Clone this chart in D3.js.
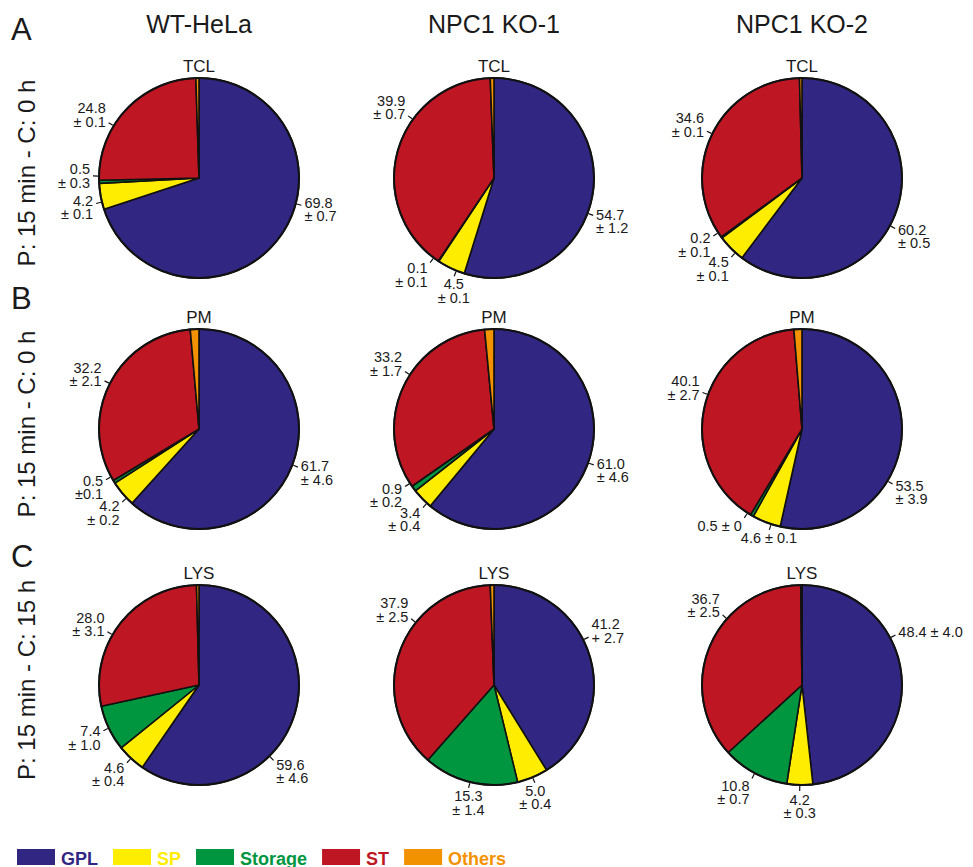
<!DOCTYPE html>
<html lang="en">
<head>
  <meta charset="utf-8">
  <title>Lipid class distribution</title>
  <script src="https://cdnjs.cloudflare.com/ajax/libs/d3/7.8.5/d3.min.js"></script>
  <style>
    body { margin: 0; background: #fff; }
    text { font-family: "Liberation Sans", Arial, sans-serif; fill: #1a1a1a; }
  </style>
</head>
<body>
<svg id="chart" width="973" height="867"></svg>
<script>
  // ---- data ----
  var columns = ["WT-HeLa", "NPC1 KO-1", "NPC1 KO-2"];
  var fractions = ["TCL", "PM", "LYS"];
  var panels = ["A", "B", "C"];
  var rowTitles = ["P: 15 min - C: 0 h", "P: 15 min - C: 0 h", "P: 15 min - C: 15 h"];
  var groups = ["GPL", "SP", "Storage", "ST", "Others"];
  var groupColors = ["#312783", "#ffed00", "#009640", "#be1622", "#f39200"];

  // values per column, in group order
  var tclValues = [[69.8, 4.2, 0.5, 24.8, 0.5], [54.7, 4.5, 0.1, 39.9, 0.6], [60.2, 4.5, 0.2, 34.6, 0.4]];
  var pmValues  = [[61.7, 4.2, 0.5, 32.2, 1.4], [61.0, 3.4, 0.9, 33.2, 1.5], [53.5, 4.6, 0.5, 40.1, 1.3]];
  var lysValues = [[59.6, 4.6, 7.4, 28.0, 0.4], [41.2, 5.0, 15.3, 37.9, 0.6], [48.4, 4.2, 10.8, 36.7, 0.2]];

  var tclLabels = [["69.8\n± 0.7", "4.2\n± 0.1", "0.5\n± 0.3", "24.8\n± 0.1", ""],
                   ["54.7\n± 1.2", "4.5\n± 0.1", "0.1\n± 0.1", "39.9\n± 0.7", ""],
                   ["60.2\n± 0.5", "4.5\n± 0.1", "0.2\n± 0.1", "34.6\n± 0.1", ""]];
  var pmLabels  = [["61.7\n± 4.6", "4.2\n± 0.2", "0.5\n±0.1", "32.2\n± 2.1", ""],
                   ["61.0\n± 4.6", "3.4\n± 0.4", "0.9\n± 0.2", "33.2\n± 1.7", ""],
                   ["53.5\n± 3.9", "4.6 ± 0.1", "0.5 ± 0", "40.1\n± 2.7", ""]];
  var lysLabels = [["59.6\n± 4.6", "4.6\n± 0.4", "7.4\n± 1.0", "28.0\n± 3.1", ""],
                   ["41.2\n+ 2.7", "5.0\n± 0.4", "15.3\n± 1.4", "37.9\n± 2.5", ""],
                   ["48.4 ± 4.0", "4.2\n± 0.3", "10.8\n± 0.7", "36.7\n± 2.5", ""]];

  var allValues = [tclValues, pmValues, lysValues];
  var allLabels = [tclLabels, pmLabels, lysLabels];

  // ---- layout ----
  var radius = 100;
  var panelY = [40, 309, 567];
  // hand nudges (degrees) for some labels, as placed in the original figure
  var labelNudge = {
    "TCL|WT-HeLa|GPL": -21,
    "TCL|WT-HeLa|ST": -12,
    "TCL|NPC1 KO-1|GPL": 12,
    "TCL|NPC1 KO-1|ST": 20,
    "TCL|NPC1 KO-2|GPL": 10,
    "PM|NPC1 KO-1|ST": 8,
    "PM|NPC1 KO-2|GPL": 25,
    "PM|NPC1 KO-2|ST": 7,
    "LYS|WT-HeLa|GPL": 28,
    "LYS|WT-HeLa|ST": -8,
    "LYS|NPC1 KO-1|GPL": -11,
    "LYS|NPC1 KO-1|ST": 19,
    "LYS|NPC1 KO-2|GPL": -25,
    "LYS|NPC1 KO-2|ST": 18
  };

  var svg = d3.select("#chart");
  svg.append("rect").attr("width", 973).attr("height", 867).attr("fill", "#fff");

  var colX = d3.scaleOrdinal().domain(columns).range([199, 494, 802]);
  var rowY = d3.scaleOrdinal().domain(fractions).range([178, 429, 685]);
  var color = d3.scaleOrdinal().domain(groups).range(groupColors);

  var pie = d3.pie().sort(null).value(d => d.value);
  var arc = d3.arc().innerRadius(0).outerRadius(radius);

  // column titles
  svg.selectAll("text.col").data(columns).join("text")
    .attr("class", "col")
    .attr("x", d => colX(d)).attr("y", 33)
    .attr("text-anchor", "middle").attr("font-size", 25)
    .text(d => d);

  // panel letters + row titles
  fractions.forEach(function(frac, ri) {
    svg.append("text").attr("x", 11).attr("y", panelY[ri])
      .attr("font-size", 31).text(panels[ri]);
    svg.append("text")
      .attr("transform", "translate(35," + (rowY(frac) - 5) + ") rotate(-90)")
      .attr("text-anchor", "middle").attr("font-size", 24)
      .text(rowTitles[ri]);
  });

  var minSep = 15 * Math.PI / 180;
  var lineH = 13.5;

  fractions.forEach(function(frac, ri) {
    columns.forEach(function(col, ci) {
      var vals = allValues[ri][ci], labs = allLabels[ri][ci];
      var data = groups.map((g, i) => ({ group: g, value: vals[i], label: labs[i] }));
      var arcs = pie(data);

      var g = svg.append("g")
        .attr("transform", "translate(" + colX(col) + "," + rowY(frac) + ")");

      g.selectAll("path").data(arcs).join("path")
        .attr("d", arc)
        .attr("fill", d => color(d.data.group))
        .attr("stroke", "#111")
        .attr("stroke-width", 1.6)
        .attr("stroke-linejoin", "round");

      g.append("circle").attr("r", radius)
        .attr("fill", "none").attr("stroke", "#111").attr("stroke-width", 2);

      g.append("text").attr("y", -radius - 6)
        .attr("text-anchor", "middle").attr("font-size", 17).text(frac);

      // label angles, spread apart where slices are thin
      var labels = arcs.filter(d => d.data.label).map(function(d) {
        var n = labelNudge[frac + "|" + col + "|" + d.data.group] || 0;
        return { text: d.data.label, angle: (d.startAngle + d.endAngle) / 2 + n * Math.PI / 180 };
      });
      labels.sort((a, b) => a.angle - b.angle);
      for (var it = 0; it < 60; it++) {
        for (var i = 1; i < labels.length; i++) {
          var gap = labels[i].angle - labels[i - 1].angle;
          if (gap < minSep) {
            var s = (minSep - gap) / 2;
            labels[i - 1].angle -= s;
            labels[i].angle += s;
          }
        }
      }

      labels.forEach(function(l) {
        var sin = Math.sin(l.angle), cos = Math.cos(l.angle);
        g.append("line")
          .attr("x1", sin * (radius + 1)).attr("y1", -cos * (radius + 1))
          .attr("x2", sin * (radius + 6)).attr("y2", -cos * (radius + 6))
          .attr("stroke", "#111").attr("stroke-width", 1.2);

        var lines = l.text.split("\n");
        var px = sin * (radius + 7), py = -cos * (radius + 7);
        var anchor = sin > 0.4 ? "start" : (sin < -0.4 ? "end" : "middle");
        var blockH = (lines.length - 1) * lineH + 11;
        var cy = py + (-cos) * (blockH / 2 + 2);
        var y0 = cy + 5.5 - (lines.length - 1) * lineH / 2;
        var dx = anchor === "start" ? 2 : (anchor === "end" ? -2 : 0);

        var t = g.append("text")
          .attr("text-anchor", anchor).attr("font-size", 14.5);
        lines.forEach(function(s, k) {
          t.append("tspan").attr("x", px + dx).attr("y", y0 + k * lineH).text(s);
        });
      });
    });
  });

  // legend
  var lx = 17;
  groups.forEach(function(gname) {
    svg.append("rect").attr("x", lx).attr("y", 849)
      .attr("width", 38).attr("height", 16).attr("fill", color(gname));
    var t = svg.append("text").attr("x", lx + 44).attr("y", 865)
      .attr("font-size", 18).attr("font-weight", "bold")
      .style("fill", color(gname)).text(gname);
    lx += 44 + t.node().getComputedTextLength() + 15;
  });
</script>
</body>
</html>
